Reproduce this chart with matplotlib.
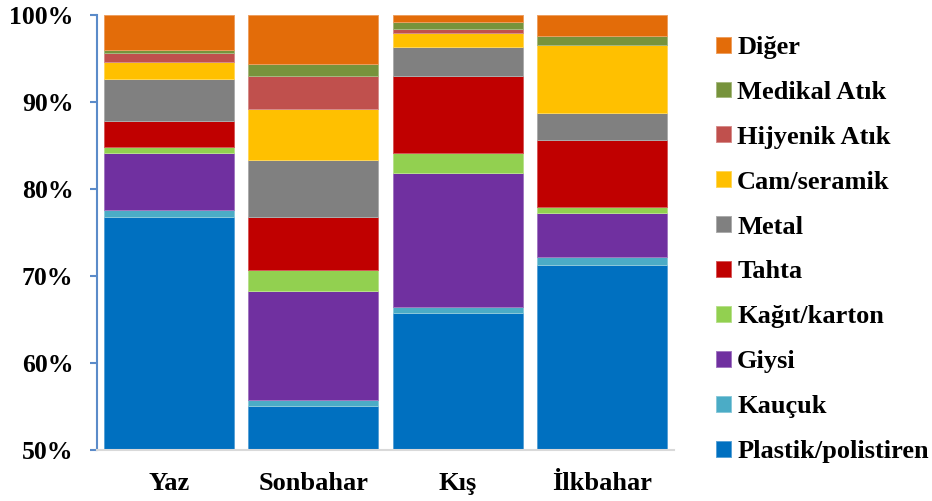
import numpy as np
import matplotlib
matplotlib.use('Agg')
import matplotlib.pyplot as plt
from matplotlib.colors import to_rgb
from matplotlib.ticker import FuncFormatter

plt.rcParams['font.family'] = ['Liberation Serif', 'DejaVu Serif']
plt.rcParams['font.weight'] = 'bold'

seasons = ['Yaz', 'Sonbahar', 'Kış', 'İlkbahar']
categories = ['Plastik/polistiren', 'Kauçuk', 'Giysi', 'Kağıt/karton', 'Tahta',
              'Metal', 'Cam/seramik', 'Hijyenik Atık', 'Medikal Atık', 'Diğer']
colors = ['#0070C0', '#4BACC6', '#7030A0', '#92D050', '#C00000',
          '#808080', '#FFC000', '#C0504D', '#77933C', '#E36C09']

# percent share per season, same order as categories
plastik  = [76.8, 55.1, 65.8, 71.3]
kaucuk   = [0.8, 0.7, 0.7, 0.9]
giysi    = [6.6, 12.5, 15.4, 5.1]
kagit    = [0.6, 2.4, 2.3, 0.7]
tahta    = [3.0, 6.1, 8.8, 7.7]
metal    = [4.9, 6.5, 3.3, 3.1]
cam      = [1.9, 5.9, 1.7, 7.8]
hijyenik = [1.1, 3.8, 0.4, 0.0]
medikal  = [0.3, 1.4, 0.8, 1.0]
diger    = [4.0, 5.6, 0.8, 2.4]
series = [plastik, kaucuk, giysi, kagit, tahta, metal, cam, hijyenik, medikal, diger]

fig = plt.figure(figsize=(9.32, 5.01), dpi=100)
ax = fig.add_axes([97/932, 51/501, 577/932, 434.7/501])

x = np.arange(len(seasons))
bottom = np.zeros(len(seasons))
handles = []
for name, vals, c in zip(categories, series, colors):
    vals = np.array(vals, dtype=float)
    edge = tuple(0.65*np.array(to_rgb(c)) + 0.35)
    b = ax.bar(x, vals, 0.9, bottom=bottom, color=c, edgecolor=edge,
               linewidth=0.7, label=name)
    handles.append(b)
    bottom += vals

ax.set_xlim(-0.5, len(seasons) - 0.5)
ax.set_ylim(50, 100)
ax.set_yticks(np.arange(50, 101, 10))
ax.yaxis.set_major_formatter(FuncFormatter(lambda v, p: '%d%%' % v))
ax.set_xticks(x)
ax.set_xticklabels(seasons)

for s in ['top', 'right']:
    ax.spines[s].set_visible(False)
ax.spines['left'].set_color('#5B8BC9')
ax.spines['left'].set_linewidth(1.5)
ax.spines['bottom'].set_color('#D9D9D9')
ax.spines['bottom'].set_linewidth(1.5)
ax.tick_params(axis='y', colors='#5B8BC9', labelcolor='black', length=5,
               width=1.5, pad=12, labelsize=18.5)
ax.tick_params(axis='x', length=0, pad=16, labelsize=19)

leg = fig.legend(handles[::-1], categories[::-1], loc='center left',
                 bbox_to_anchor=(716/932, 0.502), frameon=False,
                 fontsize=19, handlelength=0.55, handleheight=0.55,
                 handletextpad=0.25, labelspacing=0.83, borderpad=0,
                 borderaxespad=0)

fig.savefig('out.png', dpi=100)
